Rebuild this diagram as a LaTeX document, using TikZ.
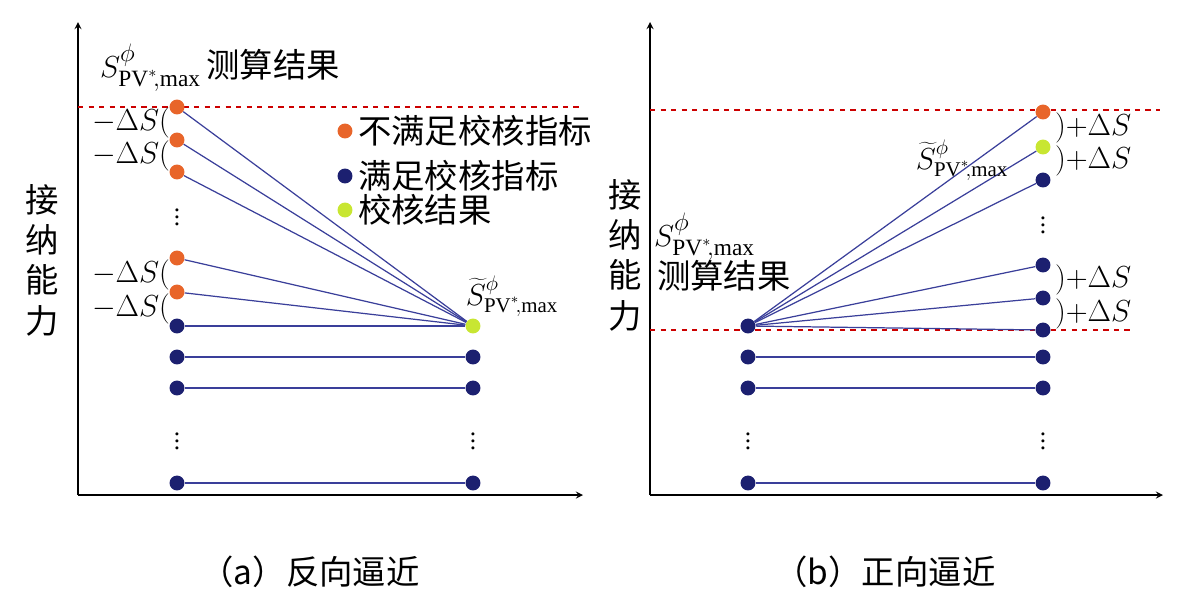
\documentclass[tikz,border=0pt]{standalone}
\usepackage{fontspec}
\setmainfont{Liberation Serif}
\newfontfamily\cjk{Noto Sans CJK SC}
\definecolor{dor}{HTML}{E8652A}
\definecolor{dbl}{HTML}{1C2070}
\definecolor{dye}{HTML}{C8E632}
\definecolor{lbl}{HTML}{3A3F9A}
\begin{document}
\begin{tikzpicture}[x=0.02cm,y=-0.02cm,
 dotO/.style={circle,fill=dor,inner sep=0pt,minimum size=8.5pt},
 dotB/.style={circle,fill=dbl,inner sep=0pt,minimum size=8.5pt},
 dotY/.style={circle,fill=dye,inner sep=0pt,minimum size=8.5pt},
 ln/.style={lbl,line width=0.7pt},
 ax/.style={line width=0.8pt,-stealth},
 dsh/.style={red!80!black,dashed,line width=0.6pt},
 vd/.style={font=\Large,inner sep=0pt},
 lab/.style={font=\fontsize{17}{19}\selectfont,inner sep=1pt},
 clab/.style={font=\fontsize{19}{21}\selectfont,inner sep=1pt}]
\useasboundingbox (0,0) rectangle (1193,600);
% ---------- panel a
\coordinate (o1) at (78,495);
\draw[ax] (o1) -- (78,22);
\draw[ax] (o1) -- (583,495);
\draw[dsh] (78,107) -- (580,107);
\foreach \n/\y in {a1/107,a2/140,a3/172,a4/258,a5/292}{\node[dotO] (\n) at (177,\y) {};}
\foreach \n/\y in {b1/326,b2/357,b3/388,b4/483}{\node[dotB] (\n) at (177,\y) {};}
\foreach \n/\y in {c2/357,c3/388,c4/483}{\node[dotB] (\n) at (473,\y) {};}
\node[dotY] (c1) at (473,326) {};
\foreach \n in {a1,a2,a3,a4,a5}{\draw[ln] (\n) -- (c1);}
\draw[ln] (b1) -- (c1); \draw[ln] (b2) -- (c2); \draw[ln] (b3) -- (c3); \draw[ln] (b4) -- (c4);
\node[vd] (v1) at (177,212) {$\vdots$};
\node[vd] (v2) at (177,436) {$\vdots$};
\node[vd] (v3) at (473,436) {$\vdots$};
\foreach \y in {123,156,275,309}{\node[lab,anchor=east] at (172,\y) {$-\Delta S\Big($};}
\node[clab,anchor=west] (t1) at (98,68) {$S^{\phi}_{\mathrm{PV}^*\!,\max}$\,{\cjk 测算结果}};
\node[lab] (t2) at (512,296) {$\widetilde{S}^{\phi}_{\mathrm{PV}^*\!,\max}$};
\node[dotO] (l1) at (345,131) {};
\node[clab,anchor=west] at (356,131) {\cjk 不满足校核指标};
\node[dotB] (l2) at (345,176) {};
\node[clab,anchor=west] at (356,176) {\cjk 满足校核指标};
\node[dotY] (l3) at (345,210) {};
\node[clab,anchor=west] at (356,210) {\cjk 校核结果};
\node[clab,align=center] at (42,260) {\cjk 接\\[2pt]\cjk 纳\\[2pt]\cjk 能\\[2pt]\cjk 力};
\node[clab] at (310,572) {\cjk （a）反向逼近};
% ---------- panel b
\coordinate (o2) at (650,495);
\draw[ax] (o2) -- (650,22);
\draw[ax] (o2) -- (1163,495);
\draw[dsh] (650,110) -- (1160,110);
\draw[dsh] (650,330) -- (1130,330);
\foreach \n/\y in {d1/326,d2/357,d3/388,d4/483}{\node[dotB] (\n) at (748,\y) {};}
\node[dotO] (e1) at (1043,112) {};
\node[dotY] (e2) at (1043,147) {};
\foreach \n/\y in {e3/180,e4/265,e5/298,e6/330,e7/357,e8/388,e9/483}{\node[dotB] (\n) at (1043,\y) {};}
\foreach \n in {e1,e2,e3,e4,e5}{\draw[ln] (d1) -- (\n);}
\draw[ln] (d1) -- (e6); \draw[ln] (d2) -- (e7); \draw[ln] (d3) -- (e8); \draw[ln] (d4) -- (e9);
\node[vd] (v4) at (1043,220) {$\vdots$};
\node[vd] (v5) at (748,436) {$\vdots$};
\node[vd] (v6) at (1043,436) {$\vdots$};
\foreach \y in {128,161,280,314}{\node[lab,anchor=west] at (1053,\y) {$\Big)\mathord{+}\Delta S$};}
\node[lab] (t3) at (962,160) {$\widetilde{S}^{\phi}_{\mathrm{PV}^*\!,\max}$};
\node[clab,anchor=west] (t4) at (652,237) {$S^{\phi}_{\mathrm{PV}^*\!,\max}$};
\node[clab,anchor=west] (t5) at (655,276) {\cjk 测算结果};
\node[clab,align=center] at (625,255) {\cjk 接\\[2pt]\cjk 纳\\[2pt]\cjk 能\\[2pt]\cjk 力};
\node[clab] at (885,572) {\cjk （b）正向逼近};
\end{tikzpicture}
\end{document}
